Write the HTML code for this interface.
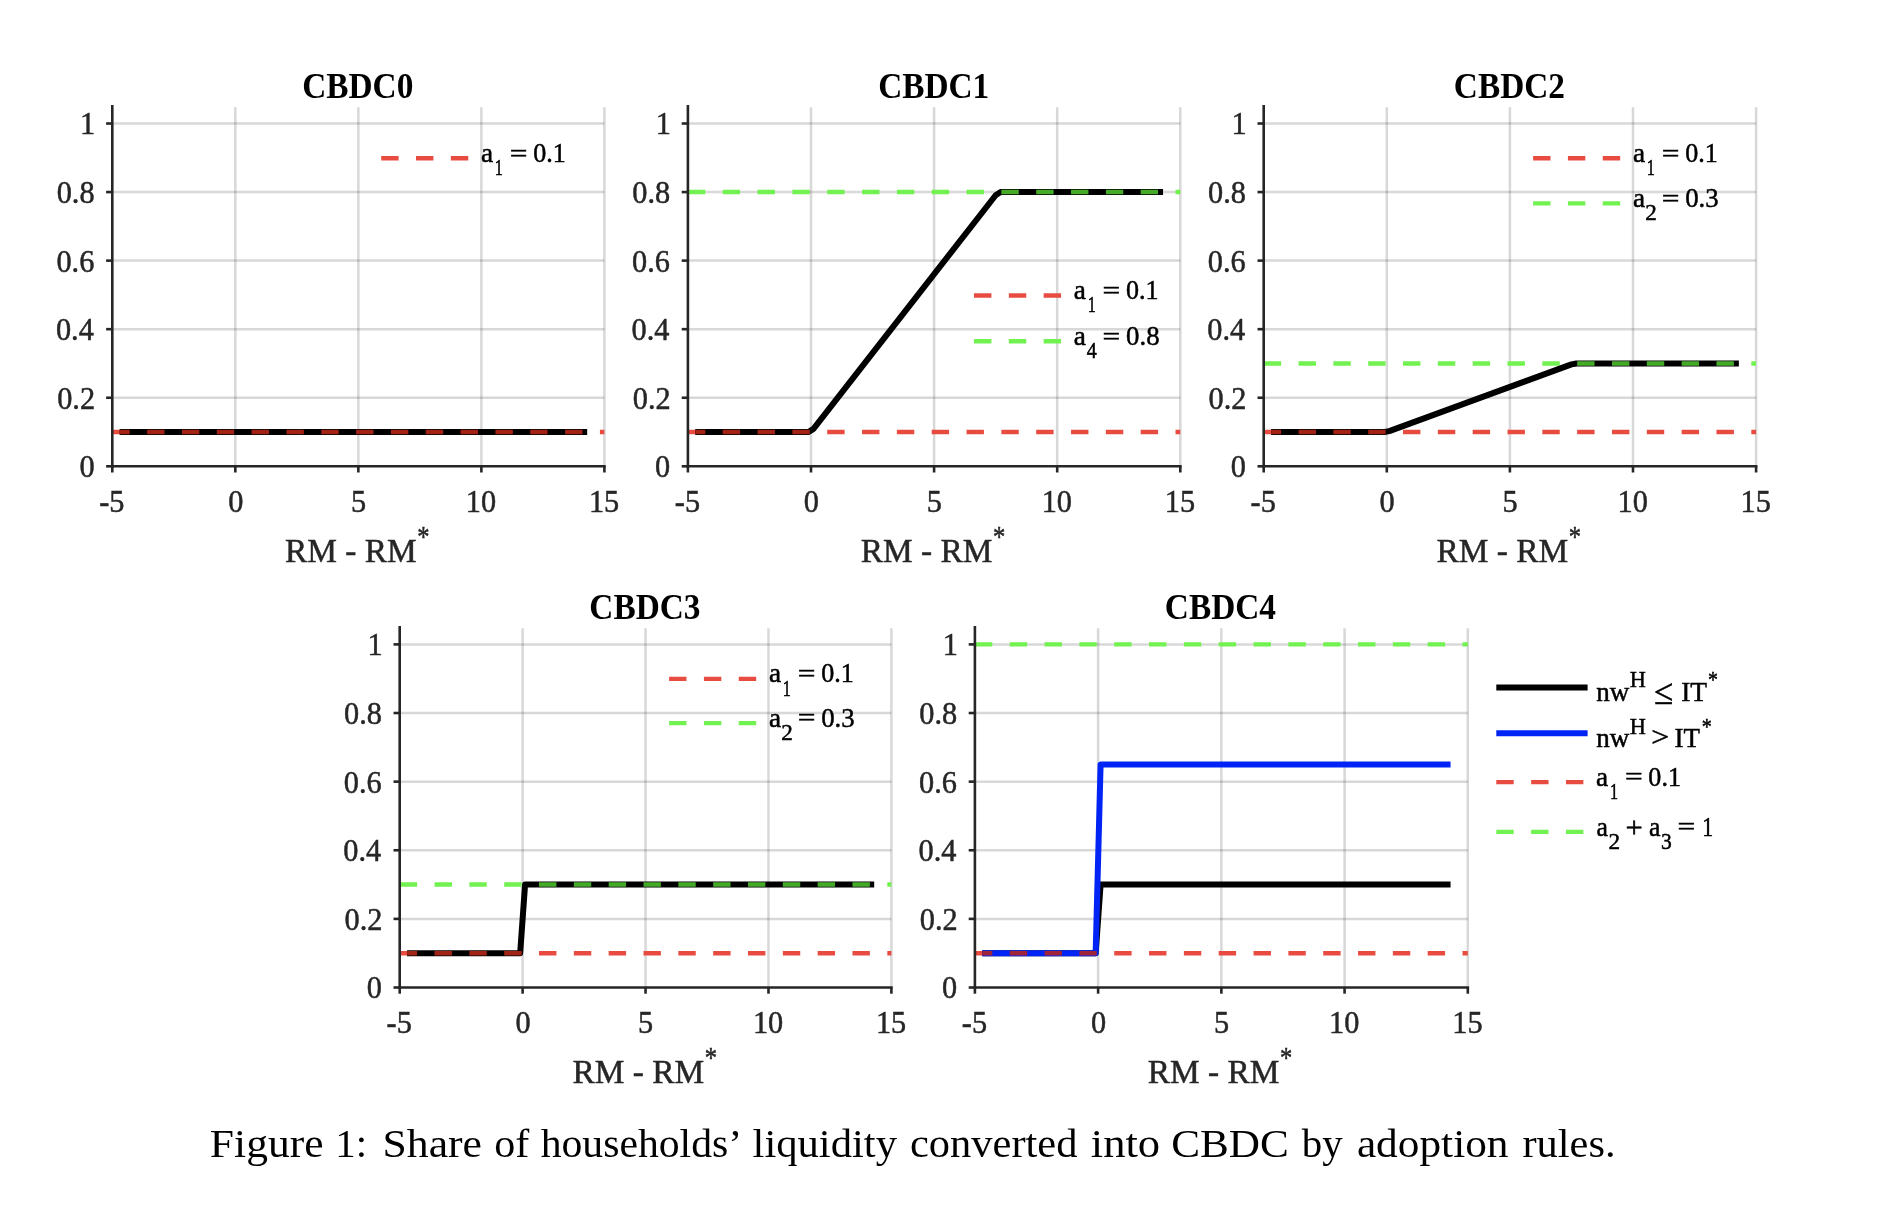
<!DOCTYPE html>
<html><head><meta charset="utf-8"><style>
html,body{margin:0;padding:0;background:#fff;}
body{width:1880px;height:1226px;overflow:hidden;position:relative;font-family:"Liberation Serif",serif;}
svg{position:absolute;left:0;top:0;will-change:transform;}
</style></head><body>
<svg width="1880" height="1226" viewBox="0 0 1880 1226" font-family="Liberation Serif, serif">
<rect width="1880" height="1226" fill="#fff"/>
<line x1="235.32" y1="107.26" x2="235.32" y2="466.30" stroke="rgba(38,38,38,0.18)" stroke-width="2.5" />
<line x1="358.35" y1="107.26" x2="358.35" y2="466.30" stroke="rgba(38,38,38,0.18)" stroke-width="2.5" />
<line x1="481.38" y1="107.26" x2="481.38" y2="466.30" stroke="rgba(38,38,38,0.18)" stroke-width="2.5" />
<line x1="604.40" y1="107.26" x2="604.40" y2="466.30" stroke="rgba(38,38,38,0.18)" stroke-width="2.5" />
<line x1="112.30" y1="397.74" x2="604.40" y2="397.74" stroke="rgba(38,38,38,0.18)" stroke-width="2.5" />
<line x1="112.30" y1="329.18" x2="604.40" y2="329.18" stroke="rgba(38,38,38,0.18)" stroke-width="2.5" />
<line x1="112.30" y1="260.62" x2="604.40" y2="260.62" stroke="rgba(38,38,38,0.18)" stroke-width="2.5" />
<line x1="112.30" y1="192.06" x2="604.40" y2="192.06" stroke="rgba(38,38,38,0.18)" stroke-width="2.5" />
<line x1="112.30" y1="123.50" x2="604.40" y2="123.50" stroke="rgba(38,38,38,0.18)" stroke-width="2.5" />
<line x1="112.30" y1="432.02" x2="604.40" y2="432.02" stroke="#e84c40" stroke-width="4.4" stroke-dasharray="17.4 17.43" stroke-dashoffset="0.00"/>
<polyline points="119.68,432.02 587.18,432.02" fill="none" stroke="#000" stroke-width="6" stroke-linejoin="round" />
<line x1="119.68" y1="432.02" x2="587.18" y2="432.02" stroke="#a02316" stroke-width="4.4" stroke-dasharray="17.4 17.43" stroke-dashoffset="7.38"/>
<line x1="112.30" y1="105.06" x2="112.30" y2="467.60" stroke="#262626" stroke-width="2.6" />
<line x1="111.00" y1="466.30" x2="605.70" y2="466.30" stroke="#262626" stroke-width="2.6" />
<line x1="112.30" y1="466.30" x2="112.30" y2="472.50" stroke="#262626" stroke-width="2.6" />
<line x1="235.32" y1="466.30" x2="235.32" y2="472.50" stroke="#262626" stroke-width="2.6" />
<line x1="358.35" y1="466.30" x2="358.35" y2="472.50" stroke="#262626" stroke-width="2.6" />
<line x1="481.38" y1="466.30" x2="481.38" y2="472.50" stroke="#262626" stroke-width="2.6" />
<line x1="604.40" y1="466.30" x2="604.40" y2="472.50" stroke="#262626" stroke-width="2.6" />
<line x1="112.30" y1="466.30" x2="106.10" y2="466.30" stroke="#262626" stroke-width="2.6" />
<line x1="112.30" y1="397.74" x2="106.10" y2="397.74" stroke="#262626" stroke-width="2.6" />
<line x1="112.30" y1="329.18" x2="106.10" y2="329.18" stroke="#262626" stroke-width="2.6" />
<line x1="112.30" y1="260.62" x2="106.10" y2="260.62" stroke="#262626" stroke-width="2.6" />
<line x1="112.30" y1="192.06" x2="106.10" y2="192.06" stroke="#262626" stroke-width="2.6" />
<line x1="112.30" y1="123.50" x2="106.10" y2="123.50" stroke="#262626" stroke-width="2.6" />
<text transform="translate(79.39,477.20) scale(0.9600,1)" font-size="31.6" font-weight="normal" fill="#262626" stroke="#262626" stroke-width="0.5">0</text>
<text transform="translate(57.15,408.64) scale(0.9600,1)" font-size="31.6" font-weight="normal" fill="#262626" stroke="#262626" stroke-width="0.5">0.2</text>
<text transform="translate(55.95,340.08) scale(0.9600,1)" font-size="31.6" font-weight="normal" fill="#262626" stroke="#262626" stroke-width="0.5">0.4</text>
<text transform="translate(56.38,271.52) scale(0.9600,1)" font-size="31.6" font-weight="normal" fill="#262626" stroke="#262626" stroke-width="0.5">0.6</text>
<text transform="translate(56.64,202.96) scale(0.9600,1)" font-size="31.6" font-weight="normal" fill="#262626" stroke="#262626" stroke-width="0.5">0.8</text>
<text transform="translate(80.05,134.40) scale(0.9600,1)" font-size="31.6" font-weight="normal" fill="#262626" stroke="#262626" stroke-width="0.5">1</text>
<text transform="translate(99.19,511.80) scale(0.9600,1)" font-size="31.6" font-weight="normal" fill="#262626" stroke="#262626" stroke-width="0.5">-5</text>
<text transform="translate(228.14,511.80) scale(0.9600,1)" font-size="31.6" font-weight="normal" fill="#262626" stroke="#262626" stroke-width="0.5">0</text>
<text transform="translate(350.88,511.80) scale(0.9600,1)" font-size="31.6" font-weight="normal" fill="#262626" stroke="#262626" stroke-width="0.5">5</text>
<text transform="translate(465.85,511.80) scale(0.9600,1)" font-size="31.6" font-weight="normal" fill="#262626" stroke="#262626" stroke-width="0.5">10</text>
<text transform="translate(588.89,511.80) scale(0.9600,1)" font-size="31.6" font-weight="normal" fill="#262626" stroke="#262626" stroke-width="0.5">15</text>
<text transform="translate(302.19,97.95) scale(0.9420,1)" font-size="35.4" font-weight="bold" fill="#000">CBDC0</text>
<text transform="translate(285.09,561.55) scale(0.9893,1)" font-size="33.75" font-weight="normal" fill="#262626" stroke="#262626" stroke-width="0.5">RM - RM</text>
<text transform="translate(417.35,545.90) scale(0.8572,1)" font-size="28.63" font-weight="normal" fill="#262626" stroke="#262626" stroke-width="0.5">*</text>
<line x1="381.20" y1="158.20" x2="468.70" y2="158.20" stroke="#e84c40" stroke-width="4.4" stroke-dasharray="17.4 17.43" stroke-dashoffset="0.00"/>
<text transform="translate(480.99,161.67) scale(0.9701,1)" font-size="28.18" font-weight="normal" fill="#000" stroke="#000" stroke-width="0.5">a</text>
<text transform="translate(494.83,175.05) scale(0.7173,1)" font-size="22.57" font-weight="normal" fill="#000" stroke="#000" stroke-width="0.5">1</text>
<text transform="translate(509.79,160.52) scale(1.3073,1)" font-size="24.00" font-weight="normal" fill="#000" stroke="#000" stroke-width="0.5">=</text>
<text transform="translate(533.26,161.65) scale(0.9310,1)" font-size="27.97" font-weight="normal" fill="#000" stroke="#000" stroke-width="0.5">0.1</text>
<line x1="811.00" y1="107.26" x2="811.00" y2="466.30" stroke="rgba(38,38,38,0.18)" stroke-width="2.5" />
<line x1="934.10" y1="107.26" x2="934.10" y2="466.30" stroke="rgba(38,38,38,0.18)" stroke-width="2.5" />
<line x1="1057.20" y1="107.26" x2="1057.20" y2="466.30" stroke="rgba(38,38,38,0.18)" stroke-width="2.5" />
<line x1="1180.30" y1="107.26" x2="1180.30" y2="466.30" stroke="rgba(38,38,38,0.18)" stroke-width="2.5" />
<line x1="687.90" y1="397.74" x2="1180.30" y2="397.74" stroke="rgba(38,38,38,0.18)" stroke-width="2.5" />
<line x1="687.90" y1="329.18" x2="1180.30" y2="329.18" stroke="rgba(38,38,38,0.18)" stroke-width="2.5" />
<line x1="687.90" y1="260.62" x2="1180.30" y2="260.62" stroke="rgba(38,38,38,0.18)" stroke-width="2.5" />
<line x1="687.90" y1="192.06" x2="1180.30" y2="192.06" stroke="rgba(38,38,38,0.18)" stroke-width="2.5" />
<line x1="687.90" y1="123.50" x2="1180.30" y2="123.50" stroke="rgba(38,38,38,0.18)" stroke-width="2.5" />
<line x1="687.90" y1="432.02" x2="1180.30" y2="432.02" stroke="#e84c40" stroke-width="4.4" stroke-dasharray="17.4 17.43" stroke-dashoffset="0.00"/>
<line x1="687.90" y1="192.06" x2="1180.30" y2="192.06" stroke="#72f250" stroke-width="4.4" stroke-dasharray="17.4 17.43" stroke-dashoffset="0.00"/>
<polyline points="695.29,432.02 808.54,432.02 813.46,428.86 995.65,195.22 1000.57,192.06 1163.07,192.06" fill="none" stroke="#000" stroke-width="6" stroke-linejoin="round" />
<line x1="695.29" y1="432.02" x2="811.00" y2="432.02" stroke="#a02316" stroke-width="4.4" stroke-dasharray="17.4 17.43" stroke-dashoffset="7.39"/>
<line x1="1000.57" y1="192.06" x2="1163.07" y2="192.06" stroke="#44aa28" stroke-width="4.4" stroke-dasharray="17.4 17.43" stroke-dashoffset="34.03"/>
<line x1="687.90" y1="105.06" x2="687.90" y2="467.60" stroke="#262626" stroke-width="2.6" />
<line x1="686.60" y1="466.30" x2="1181.60" y2="466.30" stroke="#262626" stroke-width="2.6" />
<line x1="687.90" y1="466.30" x2="687.90" y2="472.50" stroke="#262626" stroke-width="2.6" />
<line x1="811.00" y1="466.30" x2="811.00" y2="472.50" stroke="#262626" stroke-width="2.6" />
<line x1="934.10" y1="466.30" x2="934.10" y2="472.50" stroke="#262626" stroke-width="2.6" />
<line x1="1057.20" y1="466.30" x2="1057.20" y2="472.50" stroke="#262626" stroke-width="2.6" />
<line x1="1180.30" y1="466.30" x2="1180.30" y2="472.50" stroke="#262626" stroke-width="2.6" />
<line x1="687.90" y1="466.30" x2="681.70" y2="466.30" stroke="#262626" stroke-width="2.6" />
<line x1="687.90" y1="397.74" x2="681.70" y2="397.74" stroke="#262626" stroke-width="2.6" />
<line x1="687.90" y1="329.18" x2="681.70" y2="329.18" stroke="#262626" stroke-width="2.6" />
<line x1="687.90" y1="260.62" x2="681.70" y2="260.62" stroke="#262626" stroke-width="2.6" />
<line x1="687.90" y1="192.06" x2="681.70" y2="192.06" stroke="#262626" stroke-width="2.6" />
<line x1="687.90" y1="123.50" x2="681.70" y2="123.50" stroke="#262626" stroke-width="2.6" />
<text transform="translate(654.99,477.20) scale(0.9600,1)" font-size="31.6" font-weight="normal" fill="#262626" stroke="#262626" stroke-width="0.5">0</text>
<text transform="translate(632.75,408.64) scale(0.9600,1)" font-size="31.6" font-weight="normal" fill="#262626" stroke="#262626" stroke-width="0.5">0.2</text>
<text transform="translate(631.55,340.08) scale(0.9600,1)" font-size="31.6" font-weight="normal" fill="#262626" stroke="#262626" stroke-width="0.5">0.4</text>
<text transform="translate(631.98,271.52) scale(0.9600,1)" font-size="31.6" font-weight="normal" fill="#262626" stroke="#262626" stroke-width="0.5">0.6</text>
<text transform="translate(632.24,202.96) scale(0.9600,1)" font-size="31.6" font-weight="normal" fill="#262626" stroke="#262626" stroke-width="0.5">0.8</text>
<text transform="translate(655.65,134.40) scale(0.9600,1)" font-size="31.6" font-weight="normal" fill="#262626" stroke="#262626" stroke-width="0.5">1</text>
<text transform="translate(674.79,511.80) scale(0.9600,1)" font-size="31.6" font-weight="normal" fill="#262626" stroke="#262626" stroke-width="0.5">-5</text>
<text transform="translate(803.82,511.80) scale(0.9600,1)" font-size="31.6" font-weight="normal" fill="#262626" stroke="#262626" stroke-width="0.5">0</text>
<text transform="translate(926.63,511.80) scale(0.9600,1)" font-size="31.6" font-weight="normal" fill="#262626" stroke="#262626" stroke-width="0.5">5</text>
<text transform="translate(1041.68,511.80) scale(0.9600,1)" font-size="31.6" font-weight="normal" fill="#262626" stroke="#262626" stroke-width="0.5">10</text>
<text transform="translate(1164.79,511.80) scale(0.9600,1)" font-size="31.6" font-weight="normal" fill="#262626" stroke="#262626" stroke-width="0.5">15</text>
<text transform="translate(878.17,97.95) scale(0.9420,1)" font-size="35.4" font-weight="bold" fill="#000">CBDC1</text>
<text transform="translate(860.69,561.55) scale(0.9893,1)" font-size="33.75" font-weight="normal" fill="#262626" stroke="#262626" stroke-width="0.5">RM - RM</text>
<text transform="translate(992.95,545.90) scale(0.8572,1)" font-size="28.63" font-weight="normal" fill="#262626" stroke="#262626" stroke-width="0.5">*</text>
<line x1="974.00" y1="295.50" x2="1061.50" y2="295.50" stroke="#e84c40" stroke-width="4.4" stroke-dasharray="17.4 17.43" stroke-dashoffset="0.00"/>
<text transform="translate(1073.79,298.97) scale(0.9701,1)" font-size="28.18" font-weight="normal" fill="#000" stroke="#000" stroke-width="0.5">a</text>
<text transform="translate(1087.63,312.35) scale(0.7173,1)" font-size="22.57" font-weight="normal" fill="#000" stroke="#000" stroke-width="0.5">1</text>
<text transform="translate(1102.59,297.82) scale(1.3073,1)" font-size="24.00" font-weight="normal" fill="#000" stroke="#000" stroke-width="0.5">=</text>
<text transform="translate(1126.06,298.95) scale(0.9310,1)" font-size="27.97" font-weight="normal" fill="#000" stroke="#000" stroke-width="0.5">0.1</text>
<line x1="974.00" y1="341.20" x2="1061.50" y2="341.20" stroke="#72f250" stroke-width="4.4" stroke-dasharray="17.4 17.43" stroke-dashoffset="0.00"/>
<text transform="translate(1073.79,344.67) scale(0.9701,1)" font-size="28.18" font-weight="normal" fill="#000" stroke="#000" stroke-width="0.5">a</text>
<text transform="translate(1086.66,358.05) scale(0.8838,1)" font-size="22.64" font-weight="normal" fill="#000" stroke="#000" stroke-width="0.5">4</text>
<text transform="translate(1102.59,343.52) scale(1.3073,1)" font-size="24.00" font-weight="normal" fill="#000" stroke="#000" stroke-width="0.5">=</text>
<text transform="translate(1126.03,344.65) scale(0.9593,1)" font-size="27.97" font-weight="normal" fill="#000" stroke="#000" stroke-width="0.5">0.8</text>
<line x1="1386.80" y1="107.26" x2="1386.80" y2="466.30" stroke="rgba(38,38,38,0.18)" stroke-width="2.5" />
<line x1="1509.90" y1="107.26" x2="1509.90" y2="466.30" stroke="rgba(38,38,38,0.18)" stroke-width="2.5" />
<line x1="1633.00" y1="107.26" x2="1633.00" y2="466.30" stroke="rgba(38,38,38,0.18)" stroke-width="2.5" />
<line x1="1756.10" y1="107.26" x2="1756.10" y2="466.30" stroke="rgba(38,38,38,0.18)" stroke-width="2.5" />
<line x1="1263.70" y1="397.74" x2="1756.10" y2="397.74" stroke="rgba(38,38,38,0.18)" stroke-width="2.5" />
<line x1="1263.70" y1="329.18" x2="1756.10" y2="329.18" stroke="rgba(38,38,38,0.18)" stroke-width="2.5" />
<line x1="1263.70" y1="260.62" x2="1756.10" y2="260.62" stroke="rgba(38,38,38,0.18)" stroke-width="2.5" />
<line x1="1263.70" y1="192.06" x2="1756.10" y2="192.06" stroke="rgba(38,38,38,0.18)" stroke-width="2.5" />
<line x1="1263.70" y1="123.50" x2="1756.10" y2="123.50" stroke="rgba(38,38,38,0.18)" stroke-width="2.5" />
<line x1="1263.70" y1="432.02" x2="1756.10" y2="432.02" stroke="#e84c40" stroke-width="4.4" stroke-dasharray="17.4 17.43" stroke-dashoffset="0.00"/>
<line x1="1263.70" y1="363.46" x2="1756.10" y2="363.46" stroke="#72f250" stroke-width="4.4" stroke-dasharray="17.4 17.43" stroke-dashoffset="0.00"/>
<polyline points="1271.09,432.02 1384.34,432.02 1389.26,431.12 1571.45,364.36 1576.37,363.46 1738.87,363.46" fill="none" stroke="#000" stroke-width="6" stroke-linejoin="round" />
<line x1="1271.09" y1="432.02" x2="1386.80" y2="432.02" stroke="#a02316" stroke-width="4.4" stroke-dasharray="17.4 17.43" stroke-dashoffset="7.39"/>
<line x1="1576.37" y1="363.46" x2="1738.87" y2="363.46" stroke="#44aa28" stroke-width="4.4" stroke-dasharray="17.4 17.43" stroke-dashoffset="34.03"/>
<line x1="1263.70" y1="105.06" x2="1263.70" y2="467.60" stroke="#262626" stroke-width="2.6" />
<line x1="1262.40" y1="466.30" x2="1757.40" y2="466.30" stroke="#262626" stroke-width="2.6" />
<line x1="1263.70" y1="466.30" x2="1263.70" y2="472.50" stroke="#262626" stroke-width="2.6" />
<line x1="1386.80" y1="466.30" x2="1386.80" y2="472.50" stroke="#262626" stroke-width="2.6" />
<line x1="1509.90" y1="466.30" x2="1509.90" y2="472.50" stroke="#262626" stroke-width="2.6" />
<line x1="1633.00" y1="466.30" x2="1633.00" y2="472.50" stroke="#262626" stroke-width="2.6" />
<line x1="1756.10" y1="466.30" x2="1756.10" y2="472.50" stroke="#262626" stroke-width="2.6" />
<line x1="1263.70" y1="466.30" x2="1257.50" y2="466.30" stroke="#262626" stroke-width="2.6" />
<line x1="1263.70" y1="397.74" x2="1257.50" y2="397.74" stroke="#262626" stroke-width="2.6" />
<line x1="1263.70" y1="329.18" x2="1257.50" y2="329.18" stroke="#262626" stroke-width="2.6" />
<line x1="1263.70" y1="260.62" x2="1257.50" y2="260.62" stroke="#262626" stroke-width="2.6" />
<line x1="1263.70" y1="192.06" x2="1257.50" y2="192.06" stroke="#262626" stroke-width="2.6" />
<line x1="1263.70" y1="123.50" x2="1257.50" y2="123.50" stroke="#262626" stroke-width="2.6" />
<text transform="translate(1230.79,477.20) scale(0.9600,1)" font-size="31.6" font-weight="normal" fill="#262626" stroke="#262626" stroke-width="0.5">0</text>
<text transform="translate(1208.55,408.64) scale(0.9600,1)" font-size="31.6" font-weight="normal" fill="#262626" stroke="#262626" stroke-width="0.5">0.2</text>
<text transform="translate(1207.35,340.08) scale(0.9600,1)" font-size="31.6" font-weight="normal" fill="#262626" stroke="#262626" stroke-width="0.5">0.4</text>
<text transform="translate(1207.78,271.52) scale(0.9600,1)" font-size="31.6" font-weight="normal" fill="#262626" stroke="#262626" stroke-width="0.5">0.6</text>
<text transform="translate(1208.04,202.96) scale(0.9600,1)" font-size="31.6" font-weight="normal" fill="#262626" stroke="#262626" stroke-width="0.5">0.8</text>
<text transform="translate(1231.45,134.40) scale(0.9600,1)" font-size="31.6" font-weight="normal" fill="#262626" stroke="#262626" stroke-width="0.5">1</text>
<text transform="translate(1250.59,511.80) scale(0.9600,1)" font-size="31.6" font-weight="normal" fill="#262626" stroke="#262626" stroke-width="0.5">-5</text>
<text transform="translate(1379.62,511.80) scale(0.9600,1)" font-size="31.6" font-weight="normal" fill="#262626" stroke="#262626" stroke-width="0.5">0</text>
<text transform="translate(1502.43,511.80) scale(0.9600,1)" font-size="31.6" font-weight="normal" fill="#262626" stroke="#262626" stroke-width="0.5">5</text>
<text transform="translate(1617.48,511.80) scale(0.9600,1)" font-size="31.6" font-weight="normal" fill="#262626" stroke="#262626" stroke-width="0.5">10</text>
<text transform="translate(1740.59,511.80) scale(0.9600,1)" font-size="31.6" font-weight="normal" fill="#262626" stroke="#262626" stroke-width="0.5">15</text>
<text transform="translate(1453.82,97.95) scale(0.9420,1)" font-size="35.4" font-weight="bold" fill="#000">CBDC2</text>
<text transform="translate(1436.49,561.55) scale(0.9893,1)" font-size="33.75" font-weight="normal" fill="#262626" stroke="#262626" stroke-width="0.5">RM - RM</text>
<text transform="translate(1568.75,545.90) scale(0.8572,1)" font-size="28.63" font-weight="normal" fill="#262626" stroke="#262626" stroke-width="0.5">*</text>
<line x1="1533.10" y1="158.30" x2="1620.60" y2="158.30" stroke="#e84c40" stroke-width="4.4" stroke-dasharray="17.4 17.43" stroke-dashoffset="0.00"/>
<text transform="translate(1632.89,161.77) scale(0.9701,1)" font-size="28.18" font-weight="normal" fill="#000" stroke="#000" stroke-width="0.5">a</text>
<text transform="translate(1646.73,175.15) scale(0.7173,1)" font-size="22.57" font-weight="normal" fill="#000" stroke="#000" stroke-width="0.5">1</text>
<text transform="translate(1661.69,160.62) scale(1.3073,1)" font-size="24.00" font-weight="normal" fill="#000" stroke="#000" stroke-width="0.5">=</text>
<text transform="translate(1685.16,161.75) scale(0.9310,1)" font-size="27.97" font-weight="normal" fill="#000" stroke="#000" stroke-width="0.5">0.1</text>
<line x1="1533.10" y1="203.40" x2="1620.60" y2="203.40" stroke="#72f250" stroke-width="4.4" stroke-dasharray="17.4 17.43" stroke-dashoffset="0.00"/>
<text transform="translate(1632.89,206.87) scale(0.9701,1)" font-size="28.18" font-weight="normal" fill="#000" stroke="#000" stroke-width="0.5">a</text>
<text transform="translate(1645.13,220.25) scale(1.0309,1)" font-size="22.50" font-weight="normal" fill="#000" stroke="#000" stroke-width="0.5">2</text>
<text transform="translate(1661.69,205.72) scale(1.3073,1)" font-size="24.00" font-weight="normal" fill="#000" stroke="#000" stroke-width="0.5">=</text>
<text transform="translate(1685.13,206.85) scale(0.9601,1)" font-size="27.97" font-weight="normal" fill="#000" stroke="#000" stroke-width="0.5">0.3</text>
<line x1="522.62" y1="628.14" x2="522.62" y2="987.50" stroke="rgba(38,38,38,0.18)" stroke-width="2.5" />
<line x1="645.55" y1="628.14" x2="645.55" y2="987.50" stroke="rgba(38,38,38,0.18)" stroke-width="2.5" />
<line x1="768.48" y1="628.14" x2="768.48" y2="987.50" stroke="rgba(38,38,38,0.18)" stroke-width="2.5" />
<line x1="891.40" y1="628.14" x2="891.40" y2="987.50" stroke="rgba(38,38,38,0.18)" stroke-width="2.5" />
<line x1="399.70" y1="918.88" x2="891.40" y2="918.88" stroke="rgba(38,38,38,0.18)" stroke-width="2.5" />
<line x1="399.70" y1="850.26" x2="891.40" y2="850.26" stroke="rgba(38,38,38,0.18)" stroke-width="2.5" />
<line x1="399.70" y1="781.64" x2="891.40" y2="781.64" stroke="rgba(38,38,38,0.18)" stroke-width="2.5" />
<line x1="399.70" y1="713.02" x2="891.40" y2="713.02" stroke="rgba(38,38,38,0.18)" stroke-width="2.5" />
<line x1="399.70" y1="644.40" x2="891.40" y2="644.40" stroke="rgba(38,38,38,0.18)" stroke-width="2.5" />
<line x1="399.70" y1="953.19" x2="891.40" y2="953.19" stroke="#e84c40" stroke-width="4.4" stroke-dasharray="17.4 17.43" stroke-dashoffset="0.00"/>
<line x1="399.70" y1="884.57" x2="891.40" y2="884.57" stroke="#72f250" stroke-width="4.4" stroke-dasharray="17.4 17.43" stroke-dashoffset="0.00"/>
<polyline points="407.08,953.19 520.17,953.19 525.08,884.57 874.19,884.57" fill="none" stroke="#000" stroke-width="6" stroke-linejoin="round" />
<line x1="407.08" y1="953.19" x2="522.62" y2="953.19" stroke="#a02316" stroke-width="4.4" stroke-dasharray="17.4 17.43" stroke-dashoffset="7.38"/>
<line x1="525.08" y1="884.57" x2="874.19" y2="884.57" stroke="#44aa28" stroke-width="4.4" stroke-dasharray="17.4 17.43" stroke-dashoffset="20.89"/>
<line x1="399.70" y1="625.94" x2="399.70" y2="988.80" stroke="#262626" stroke-width="2.6" />
<line x1="398.40" y1="987.50" x2="892.70" y2="987.50" stroke="#262626" stroke-width="2.6" />
<line x1="399.70" y1="987.50" x2="399.70" y2="993.70" stroke="#262626" stroke-width="2.6" />
<line x1="522.62" y1="987.50" x2="522.62" y2="993.70" stroke="#262626" stroke-width="2.6" />
<line x1="645.55" y1="987.50" x2="645.55" y2="993.70" stroke="#262626" stroke-width="2.6" />
<line x1="768.48" y1="987.50" x2="768.48" y2="993.70" stroke="#262626" stroke-width="2.6" />
<line x1="891.40" y1="987.50" x2="891.40" y2="993.70" stroke="#262626" stroke-width="2.6" />
<line x1="399.70" y1="987.50" x2="393.50" y2="987.50" stroke="#262626" stroke-width="2.6" />
<line x1="399.70" y1="918.88" x2="393.50" y2="918.88" stroke="#262626" stroke-width="2.6" />
<line x1="399.70" y1="850.26" x2="393.50" y2="850.26" stroke="#262626" stroke-width="2.6" />
<line x1="399.70" y1="781.64" x2="393.50" y2="781.64" stroke="#262626" stroke-width="2.6" />
<line x1="399.70" y1="713.02" x2="393.50" y2="713.02" stroke="#262626" stroke-width="2.6" />
<line x1="399.70" y1="644.40" x2="393.50" y2="644.40" stroke="#262626" stroke-width="2.6" />
<text transform="translate(366.79,998.40) scale(0.9600,1)" font-size="31.6" font-weight="normal" fill="#262626" stroke="#262626" stroke-width="0.5">0</text>
<text transform="translate(344.55,929.78) scale(0.9600,1)" font-size="31.6" font-weight="normal" fill="#262626" stroke="#262626" stroke-width="0.5">0.2</text>
<text transform="translate(343.35,861.16) scale(0.9600,1)" font-size="31.6" font-weight="normal" fill="#262626" stroke="#262626" stroke-width="0.5">0.4</text>
<text transform="translate(343.78,792.54) scale(0.9600,1)" font-size="31.6" font-weight="normal" fill="#262626" stroke="#262626" stroke-width="0.5">0.6</text>
<text transform="translate(344.04,723.92) scale(0.9600,1)" font-size="31.6" font-weight="normal" fill="#262626" stroke="#262626" stroke-width="0.5">0.8</text>
<text transform="translate(367.45,655.30) scale(0.9600,1)" font-size="31.6" font-weight="normal" fill="#262626" stroke="#262626" stroke-width="0.5">1</text>
<text transform="translate(386.59,1033.00) scale(0.9600,1)" font-size="31.6" font-weight="normal" fill="#262626" stroke="#262626" stroke-width="0.5">-5</text>
<text transform="translate(515.44,1033.00) scale(0.9600,1)" font-size="31.6" font-weight="normal" fill="#262626" stroke="#262626" stroke-width="0.5">0</text>
<text transform="translate(638.08,1033.00) scale(0.9600,1)" font-size="31.6" font-weight="normal" fill="#262626" stroke="#262626" stroke-width="0.5">5</text>
<text transform="translate(752.95,1033.00) scale(0.9600,1)" font-size="31.6" font-weight="normal" fill="#262626" stroke="#262626" stroke-width="0.5">10</text>
<text transform="translate(875.89,1033.00) scale(0.9600,1)" font-size="31.6" font-weight="normal" fill="#262626" stroke="#262626" stroke-width="0.5">15</text>
<text transform="translate(589.33,619.15) scale(0.9420,1)" font-size="35.4" font-weight="bold" fill="#000">CBDC3</text>
<text transform="translate(572.49,1082.75) scale(0.9893,1)" font-size="33.75" font-weight="normal" fill="#262626" stroke="#262626" stroke-width="0.5">RM - RM</text>
<text transform="translate(704.75,1067.10) scale(0.8572,1)" font-size="28.63" font-weight="normal" fill="#262626" stroke="#262626" stroke-width="0.5">*</text>
<line x1="669.10" y1="678.90" x2="756.60" y2="678.90" stroke="#e84c40" stroke-width="4.4" stroke-dasharray="17.4 17.43" stroke-dashoffset="0.00"/>
<text transform="translate(768.89,682.37) scale(0.9701,1)" font-size="28.18" font-weight="normal" fill="#000" stroke="#000" stroke-width="0.5">a</text>
<text transform="translate(782.73,695.75) scale(0.7173,1)" font-size="22.57" font-weight="normal" fill="#000" stroke="#000" stroke-width="0.5">1</text>
<text transform="translate(797.69,681.22) scale(1.3073,1)" font-size="24.00" font-weight="normal" fill="#000" stroke="#000" stroke-width="0.5">=</text>
<text transform="translate(821.16,682.35) scale(0.9310,1)" font-size="27.97" font-weight="normal" fill="#000" stroke="#000" stroke-width="0.5">0.1</text>
<line x1="669.10" y1="723.10" x2="756.60" y2="723.10" stroke="#72f250" stroke-width="4.4" stroke-dasharray="17.4 17.43" stroke-dashoffset="0.00"/>
<text transform="translate(768.89,726.57) scale(0.9701,1)" font-size="28.18" font-weight="normal" fill="#000" stroke="#000" stroke-width="0.5">a</text>
<text transform="translate(781.13,739.95) scale(1.0309,1)" font-size="22.50" font-weight="normal" fill="#000" stroke="#000" stroke-width="0.5">2</text>
<text transform="translate(797.69,725.42) scale(1.3073,1)" font-size="24.00" font-weight="normal" fill="#000" stroke="#000" stroke-width="0.5">=</text>
<text transform="translate(821.13,726.55) scale(0.9601,1)" font-size="27.97" font-weight="normal" fill="#000" stroke="#000" stroke-width="0.5">0.3</text>
<line x1="1098.12" y1="628.14" x2="1098.12" y2="987.50" stroke="rgba(38,38,38,0.18)" stroke-width="2.5" />
<line x1="1221.35" y1="628.14" x2="1221.35" y2="987.50" stroke="rgba(38,38,38,0.18)" stroke-width="2.5" />
<line x1="1344.58" y1="628.14" x2="1344.58" y2="987.50" stroke="rgba(38,38,38,0.18)" stroke-width="2.5" />
<line x1="1467.80" y1="628.14" x2="1467.80" y2="987.50" stroke="rgba(38,38,38,0.18)" stroke-width="2.5" />
<line x1="974.90" y1="918.88" x2="1467.80" y2="918.88" stroke="rgba(38,38,38,0.18)" stroke-width="2.5" />
<line x1="974.90" y1="850.26" x2="1467.80" y2="850.26" stroke="rgba(38,38,38,0.18)" stroke-width="2.5" />
<line x1="974.90" y1="781.64" x2="1467.80" y2="781.64" stroke="rgba(38,38,38,0.18)" stroke-width="2.5" />
<line x1="974.90" y1="713.02" x2="1467.80" y2="713.02" stroke="rgba(38,38,38,0.18)" stroke-width="2.5" />
<line x1="974.90" y1="644.40" x2="1467.80" y2="644.40" stroke="rgba(38,38,38,0.18)" stroke-width="2.5" />
<line x1="974.90" y1="953.19" x2="1467.80" y2="953.19" stroke="#e84c40" stroke-width="4.4" stroke-dasharray="17.4 17.43" stroke-dashoffset="0.00"/>
<line x1="974.90" y1="644.40" x2="1467.80" y2="644.40" stroke="#72f250" stroke-width="4.4" stroke-dasharray="17.4 17.43" stroke-dashoffset="0.00"/>
<polyline points="982.29,953.19 1095.66,953.19 1100.59,884.57 1450.55,884.57" fill="none" stroke="#000" stroke-width="6" stroke-linejoin="round" />
<polyline points="982.29,953.19 1095.66,953.19 1100.59,764.49 1450.55,764.49" fill="none" stroke="#0024f5" stroke-width="6" stroke-linejoin="round" />
<line x1="982.29" y1="953.19" x2="1098.12" y2="953.19" stroke="#a0233c" stroke-width="4.4" stroke-dasharray="17.4 17.43" stroke-dashoffset="7.39"/>
<line x1="974.90" y1="625.94" x2="974.90" y2="988.80" stroke="#262626" stroke-width="2.6" />
<line x1="973.60" y1="987.50" x2="1469.10" y2="987.50" stroke="#262626" stroke-width="2.6" />
<line x1="974.90" y1="987.50" x2="974.90" y2="993.70" stroke="#262626" stroke-width="2.6" />
<line x1="1098.12" y1="987.50" x2="1098.12" y2="993.70" stroke="#262626" stroke-width="2.6" />
<line x1="1221.35" y1="987.50" x2="1221.35" y2="993.70" stroke="#262626" stroke-width="2.6" />
<line x1="1344.58" y1="987.50" x2="1344.58" y2="993.70" stroke="#262626" stroke-width="2.6" />
<line x1="1467.80" y1="987.50" x2="1467.80" y2="993.70" stroke="#262626" stroke-width="2.6" />
<line x1="974.90" y1="987.50" x2="968.70" y2="987.50" stroke="#262626" stroke-width="2.6" />
<line x1="974.90" y1="918.88" x2="968.70" y2="918.88" stroke="#262626" stroke-width="2.6" />
<line x1="974.90" y1="850.26" x2="968.70" y2="850.26" stroke="#262626" stroke-width="2.6" />
<line x1="974.90" y1="781.64" x2="968.70" y2="781.64" stroke="#262626" stroke-width="2.6" />
<line x1="974.90" y1="713.02" x2="968.70" y2="713.02" stroke="#262626" stroke-width="2.6" />
<line x1="974.90" y1="644.40" x2="968.70" y2="644.40" stroke="#262626" stroke-width="2.6" />
<text transform="translate(941.99,998.40) scale(0.9600,1)" font-size="31.6" font-weight="normal" fill="#262626" stroke="#262626" stroke-width="0.5">0</text>
<text transform="translate(919.75,929.78) scale(0.9600,1)" font-size="31.6" font-weight="normal" fill="#262626" stroke="#262626" stroke-width="0.5">0.2</text>
<text transform="translate(918.55,861.16) scale(0.9600,1)" font-size="31.6" font-weight="normal" fill="#262626" stroke="#262626" stroke-width="0.5">0.4</text>
<text transform="translate(918.98,792.54) scale(0.9600,1)" font-size="31.6" font-weight="normal" fill="#262626" stroke="#262626" stroke-width="0.5">0.6</text>
<text transform="translate(919.24,723.92) scale(0.9600,1)" font-size="31.6" font-weight="normal" fill="#262626" stroke="#262626" stroke-width="0.5">0.8</text>
<text transform="translate(942.65,655.30) scale(0.9600,1)" font-size="31.6" font-weight="normal" fill="#262626" stroke="#262626" stroke-width="0.5">1</text>
<text transform="translate(961.79,1033.00) scale(0.9600,1)" font-size="31.6" font-weight="normal" fill="#262626" stroke="#262626" stroke-width="0.5">-5</text>
<text transform="translate(1090.94,1033.00) scale(0.9600,1)" font-size="31.6" font-weight="normal" fill="#262626" stroke="#262626" stroke-width="0.5">0</text>
<text transform="translate(1213.88,1033.00) scale(0.9600,1)" font-size="31.6" font-weight="normal" fill="#262626" stroke="#262626" stroke-width="0.5">5</text>
<text transform="translate(1329.05,1033.00) scale(0.9600,1)" font-size="31.6" font-weight="normal" fill="#262626" stroke="#262626" stroke-width="0.5">10</text>
<text transform="translate(1452.29,1033.00) scale(0.9600,1)" font-size="31.6" font-weight="normal" fill="#262626" stroke="#262626" stroke-width="0.5">15</text>
<text transform="translate(1164.86,619.15) scale(0.9420,1)" font-size="35.4" font-weight="bold" fill="#000">CBDC4</text>
<text transform="translate(1147.69,1082.75) scale(0.9893,1)" font-size="33.75" font-weight="normal" fill="#262626" stroke="#262626" stroke-width="0.5">RM - RM</text>
<text transform="translate(1279.95,1067.10) scale(0.8572,1)" font-size="28.63" font-weight="normal" fill="#262626" stroke="#262626" stroke-width="0.5">*</text>
<line x1="1496.30" y1="687.60" x2="1587.60" y2="687.60" stroke="#000" stroke-width="6" />
<line x1="1496.30" y1="733.20" x2="1587.60" y2="733.20" stroke="#0024f5" stroke-width="6" />
<text transform="translate(1596.33,700.57) scale(0.9560,1)" font-size="28.28" font-weight="normal" fill="#000" stroke="#000" stroke-width="0.5">nw</text>
<text transform="translate(1629.81,687.45) scale(0.9664,1)" font-size="23.06" font-weight="normal" fill="#000" stroke="#000" stroke-width="0.5">H</text>
<text transform="translate(1654.30,703.85) scale(0.9700,1)" font-size="36.11" font-weight="normal" fill="#000" stroke="#000" stroke-width="0.5">≤</text>
<text transform="translate(1681.26,700.85) scale(0.9691,1)" font-size="28.25" font-weight="normal" fill="#000" stroke="#000" stroke-width="0.5">IT</text>
<text transform="translate(1708.08,687.35) scale(0.8659,1)" font-size="22.91" font-weight="normal" fill="#000" stroke="#000" stroke-width="0.5">*</text>
<text transform="translate(1596.33,746.79) scale(1.0079,1)" font-size="26.82" font-weight="normal" fill="#000" stroke="#000" stroke-width="0.5">nw</text>
<text transform="translate(1629.81,733.95) scale(0.9927,1)" font-size="22.45" font-weight="normal" fill="#000" stroke="#000" stroke-width="0.5">H</text>
<text transform="translate(1651.13,746.48) scale(1.1894,1)" font-size="26.74" font-weight="normal" fill="#000" stroke="#000" stroke-width="0.5">&gt;</text>
<text transform="translate(1674.58,747.05) scale(0.9532,1)" font-size="28.25" font-weight="normal" fill="#000" stroke="#000" stroke-width="0.5">IT</text>
<text transform="translate(1701.67,733.85) scale(0.8767,1)" font-size="22.91" font-weight="normal" fill="#000" stroke="#000" stroke-width="0.5">*</text>
<line x1="1496.30" y1="782.10" x2="1583.80" y2="782.10" stroke="#e84c40" stroke-width="4.4" stroke-dasharray="17.4 17.43" stroke-dashoffset="0.00"/>
<text transform="translate(1596.09,785.57) scale(0.9701,1)" font-size="28.18" font-weight="normal" fill="#000" stroke="#000" stroke-width="0.5">a</text>
<text transform="translate(1609.93,798.95) scale(0.7173,1)" font-size="22.57" font-weight="normal" fill="#000" stroke="#000" stroke-width="0.5">1</text>
<text transform="translate(1624.89,784.42) scale(1.3073,1)" font-size="24.00" font-weight="normal" fill="#000" stroke="#000" stroke-width="0.5">=</text>
<text transform="translate(1648.36,785.55) scale(0.9310,1)" font-size="27.97" font-weight="normal" fill="#000" stroke="#000" stroke-width="0.5">0.1</text>
<line x1="1496.30" y1="831.90" x2="1583.80" y2="831.90" stroke="#72f250" stroke-width="4.4" stroke-dasharray="17.4 17.43" stroke-dashoffset="0.00"/>
<text transform="translate(1596.54,835.78) scale(0.9230,1)" font-size="27.97" font-weight="normal" fill="#000" stroke="#000" stroke-width="0.5">a</text>
<text transform="translate(1608.43,849.05) scale(1.0240,1)" font-size="22.65" font-weight="normal" fill="#000" stroke="#000" stroke-width="0.5">2</text>
<text transform="translate(1625.43,836.87) scale(1.0376,1)" font-size="29.41" font-weight="normal" fill="#000" stroke="#000" stroke-width="0.5">+</text>
<text transform="translate(1648.94,835.78) scale(0.9230,1)" font-size="27.97" font-weight="normal" fill="#000" stroke="#000" stroke-width="0.5">a</text>
<text transform="translate(1661.02,849.23) scale(0.9400,1)" font-size="22.92" font-weight="normal" fill="#000" stroke="#000" stroke-width="0.5">3</text>
<text transform="translate(1677.59,835.00) scale(1.2859,1)" font-size="24.40" font-weight="normal" fill="#000" stroke="#000" stroke-width="0.5">=</text>
<text transform="translate(1702.13,836.05) scale(0.7721,1)" font-size="28.33" font-weight="normal" fill="#000" stroke="#000" stroke-width="0.5">1</text>
<text transform="translate(209.85,1157.0) scale(1.0884,1)" font-size="40" fill="#000">Figure</text>
<text transform="translate(335.21,1157.0) scale(1.0224,1)" font-size="40" fill="#000">1:</text>
<text transform="translate(382.48,1157.0) scale(1.0930,1)" font-size="40" fill="#000">Share</text>
<text transform="translate(494.29,1157.0) scale(1.0536,1)" font-size="40" fill="#000">of</text>
<text transform="translate(540.69,1157.0) scale(1.0424,1)" font-size="40" fill="#000">households’</text>
<text transform="translate(752.55,1157.0) scale(1.0660,1)" font-size="40" fill="#000">liquidity</text>
<text transform="translate(909.98,1157.0) scale(1.0618,1)" font-size="40" fill="#000">converted</text>
<text transform="translate(1090.76,1157.0) scale(1.1159,1)" font-size="40" fill="#000">into</text>
<text transform="translate(1171.23,1157.0) scale(1.0801,1)" font-size="40" fill="#000">CBDC</text>
<text transform="translate(1301.80,1157.0) scale(1.0215,1)" font-size="40" fill="#000">by</text>
<text transform="translate(1356.88,1157.0) scale(1.0836,1)" font-size="40" fill="#000">adoption</text>
<text transform="translate(1522.45,1157.0) scale(1.0615,1)" font-size="40" fill="#000">rules.</text>
</svg>
</body></html>
